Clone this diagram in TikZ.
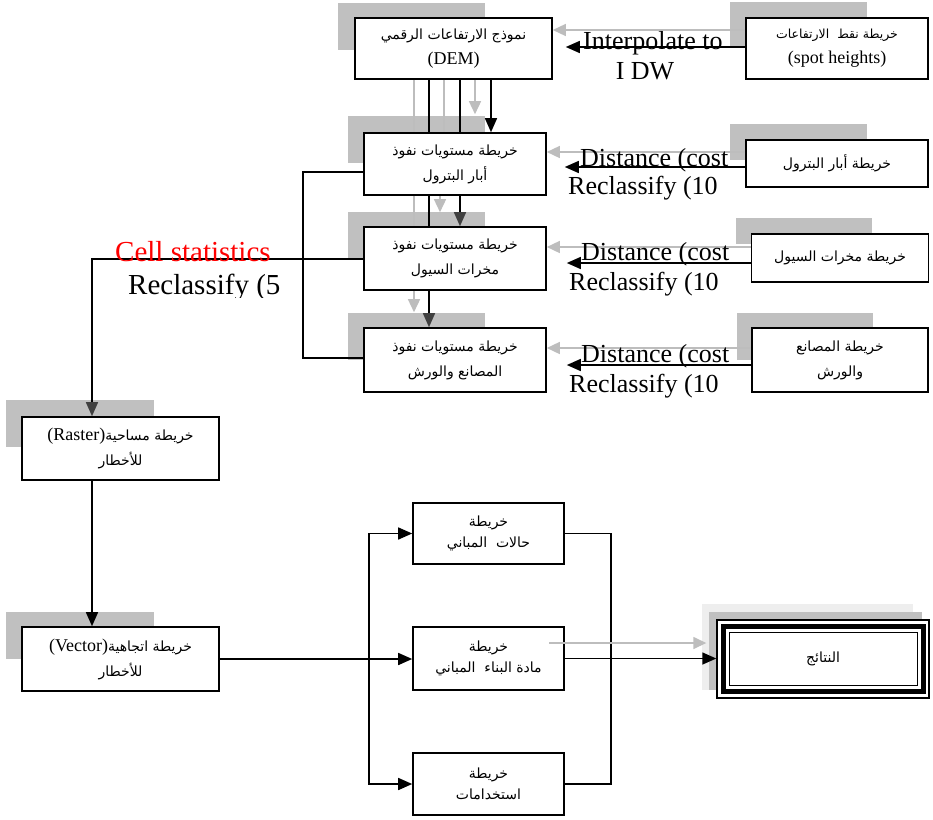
\documentclass[tikz,border=0pt]{standalone}
\usepackage{fontspec}
\setmainfont{Liberation Serif}
\newfontfamily\arabicfont[Script=Arabic]{DejaVu Sans}
\TeXXeTstate=1
\usetikzlibrary{arrows.meta}

\definecolor{shadegrey}{HTML}{C0C0C0}
\definecolor{palegrey}{HTML}{EEEEEE}
\definecolor{linegrey}{HTML}{BDBDBD}
\definecolor{headgrey}{HTML}{404040}

\newcommand{\artxt}[1]{{\arabicfont\beginR #1\endR}}
\newcommand{\lattxt}[1]{{\rmfamily\fontsize{18}{20}\selectfont #1}}

\begin{document}
\begin{tikzpicture}[x=1pt, y=-1pt]

    \tikzstyle{box}=[draw=black, line width=1.6pt, fill=white, inner sep=0pt, align=center, font=\fontsize{14}{25}\selectfont];
    \tikzstyle{shadow}=[fill=shadegrey];
    \tikzstyle{link}=[line width=1.5pt];
    \tikzstyle{arr}=[link, -{Triangle[length=14pt, width=12pt]}];
    \tikzstyle{darkarr}=[link, -{Triangle[length=14pt, width=12pt, color=headgrey]}];
    \tikzstyle{greyarr}=[link, linegrey, -{Triangle[length=13pt, width=12pt]}];
    \tikzstyle{lbl}=[inner sep=0pt, font=\fontsize{26}{30}\selectfont];
    \tikzstyle{biglbl}=[inner sep=0pt, font=\fontsize{29}{32}\selectfont];

    \useasboundingbox (0,0) rectangle (933,819);

    % shadows
    \fill[shadow] (338,3) rectangle (485,50);
    \fill[shadow] (730,2) rectangle (867,48);
    \fill[shadow] (348,116) rectangle (485,163);
    \fill[shadow] (348,212) rectangle (485,258);
    \fill[shadow] (348,313) rectangle (485,360);
    \fill[shadow] (730,124) rectangle (867,160);
    \fill[shadow] (736,218) rectangle (872,244);
    \fill[shadow] (737,313) rectangle (873,360);
    \fill[shadow] (6,400) rectangle (154,447);
    \fill[shadow] (6,612) rectangle (154,659);
    \fill[palegrey] (702,604) rectangle (913,690);
    \fill[shadow] (709,612) rectangle (922,690);

    \coordinate (bend) at (303,358);
    \coordinate (fork) at (369,659);
    \coordinate (join) at (611,659);
    \coordinate (greystart) at (549,643);

    % boxes
    \node[box, minimum width=197pt, minimum height=61pt] (dem) at (453.5,48.5) {\artxt{نموذج الارتفاعات الرقمي}\\\lattxt{(DEM)}};
    \node[box, minimum width=182pt, minimum height=61pt, font=\fontsize{12.5}{25}\selectfont] (spot) at (837,48.5) {\artxt{خريطة نقط\ \ الارتفاعات}\\\lattxt{(spot heights)}};
    \node[box, minimum width=182pt, minimum height=62pt] (oil) at (455,164) {\artxt{خريطة مستويات نفوذ}\\\artxt{أبار البترول}};
    \node[box, minimum width=182pt, minimum height=63pt] (flood) at (455,258.5) {\artxt{خريطة مستويات نفوذ}\\\artxt{مخرات السيول}};
    \node[box, minimum width=182pt, minimum height=64pt] (fact) at (455,360) {\artxt{خريطة مستويات نفوذ}\\\artxt{المصانع والورش}};
    \node[box, minimum width=182pt, minimum height=47pt] (oilmap) at (837,163.5) {\artxt{خريطة أبار البترول}};
    \node[box, minimum width=177pt, minimum height=48pt] (floodmap) at (840,258) {\artxt{خريطة مخرات السيول}};
    \node[box, minimum width=176pt, minimum height=64pt] (factmap) at (840,360) {\artxt{خريطة المصانع}\\\artxt{والورش}};
    \node[box, minimum width=197pt, minimum height=63pt] (raster) at (120.5,448.5) {\artxt{خريطة مساحية\beginL\lattxt{(Raster)}\endL}\\\artxt{للأخطار}};
    \node[box, minimum width=197pt, minimum height=64pt] (vector) at (120.5,659) {\artxt{خريطة اتجاهية\beginL\lattxt{(Vector)}\endL}\\\artxt{للأخطار}};
    \node[box, minimum width=151pt, minimum height=61pt, font=\fontsize{14}{21}\selectfont] (bldcond) at (488.5,533.5) {\artxt{خريطة}\\\artxt{حالات\ \ المباني}};
    \node[box, minimum width=151pt, minimum height=63pt, font=\fontsize{14}{21}\selectfont] (bldmat) at (488.5,658.5) {\artxt{خريطة}\\\artxt{مادة البناء\ \ المباني}};
    \node[box, minimum width=151pt, minimum height=62pt, font=\fontsize{14}{21}\selectfont] (landuse) at (488.5,784) {\artxt{خريطة}\\\artxt{استخدامات}};
    \node[box, line width=1.4pt, minimum width=212pt, minimum height=78pt] (result) at (823,659) {\artxt{النتائج}};
    \draw[line width=5pt] ([shift={(7,7)}]result.north west) rectangle ([shift={(-6,-7)}]result.south east);
    \draw[line width=1.4pt] ([shift={(13,13)}]result.north west) rectangle ([shift={(-12,-13)}]result.south east);

    % DEM down to the zone maps
    \draw[link, linegrey] (dem.south -| 414,0) -- (oil.north -| 414,0);
    \draw[link] (dem.south -| 429,0) -- (oil.north -| 429,0);
    \draw[link, linegrey] (dem.south -| 444,0) -- (oil.north -| 444,0);
    \draw[link] (dem.south -| 460,0) -- (oil.north -| 460,0);
    \draw[greyarr, shorten >=18pt] (dem.south -| 475,0) -- (oil.north -| 475,0);
    \draw[arr] (dem.south -| 491,0) -- (oil.north -| 491,0);

    \draw[link, linegrey] (oil.south -| 414,0) -- (flood.north -| 414,0);
    \draw[link] (oil.south -| 429,0) -- (flood.north -| 429,0);
    \draw[greyarr, shorten >=14pt] (oil.south -| 440,0) -- (flood.north -| 440,0);
    \draw[darkarr] (oil.south -| 460,0) -- (flood.north -| 460,0);

    \draw[greyarr, shorten >=15pt] (flood.south -| 414,0) -- (fact.north -| 414,0);
    \draw[darkarr] (flood.south -| 429,0) -- (fact.north -| 429,0);

    % source maps to the middle column
    \draw[greyarr] (spot.west |- 0,30) -- (dem.east |- 0,30);
    \draw[arr, shorten >=13pt] (spot.west |- 0,47) -- (dem.east |- 0,47);
    \draw[greyarr] (oilmap.west |- 0,152) -- (oil.east |- 0,152);
    \draw[arr, shorten >=18pt] (oilmap.west |- 0,167) -- (oil.east |- 0,167);
    \draw[greyarr] (floodmap.west |- 0,247) -- (flood.east |- 0,247);
    \draw[arr, shorten >=20pt] (floodmap.west |- 0,263) -- (flood.east |- 0,263);
    \draw[greyarr] (factmap.west |- 0,348) -- (fact.east |- 0,348);
    \draw[arr, shorten >=20pt] (factmap.west |- 0,365) -- (fact.east |- 0,365);

    % left side
    \draw[link] (oil.west |- 0,172) -| (bend) -- (fact.west |- bend);
    \draw[darkarr] (flood.west |- 0,259) -| (raster.north -| 92,0);
    \draw[arr] (raster.south -| 92,0) -- (vector.north -| 92,0);

    % bottom
    \draw[arr] (vector.east) -- (bldmat.west |- vector.east);
    \draw[arr] (fork) |- (bldcond.west);
    \draw[arr] (fork) |- (landuse.west);
    \draw[link] (bldcond.east) -| (join) |- (landuse.east);
    \draw[arr] (bldmat.east) -- (result.west |- bldmat.east);
    \draw[greyarr, shorten >=10pt] (greystart) -- (result.west |- greystart);

    % labels
    \node[lbl, anchor=base west] (interp) at (583,49) {Interpolate to};
    \node[lbl, anchor=base] (idw) at (645,79) {I DW};
    \node[lbl, anchor=base west] (dist1) at (580,166) {Distance (cost};
    \node[lbl, anchor=base west] (recl1) at (568,194) {Reclassify (10};
    \node[lbl, anchor=base west] (dist2) at (581,260) {Distance (cost};
    \node[lbl, anchor=base west] (recl2) at (569,290) {Reclassify (10};
    \node[lbl, anchor=base west] (dist3) at (581,362) {Distance (cost};
    \node[lbl, anchor=base west] (recl3) at (569,392) {Reclassify (10};
    \node[biglbl, anchor=base west, text=red] (cellstat) at (115,261) {Cell statistics};
    \begin{scope}
        \clip (0,0) rectangle (933,297);
        \node[biglbl, anchor=base west] (recl4) at (128,294) {Reclassify (5};
    \end{scope}

\end{tikzpicture}
\end{document}
